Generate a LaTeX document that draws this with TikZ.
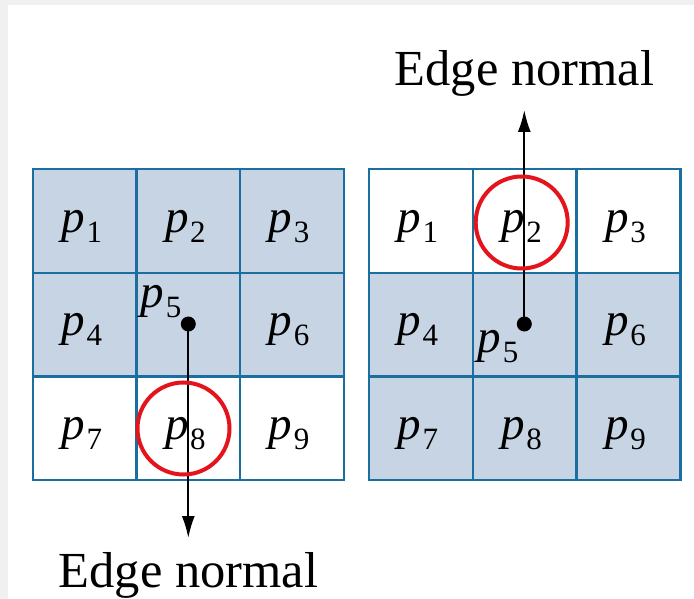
\documentclass[tikz,border=0pt]{standalone}
\usepackage{fontspec}
\setmainfont{Liberation Serif}
\usetikzlibrary{arrows.meta}
\definecolor{gridline}{HTML}{1A6EA0}
\definecolor{cellfill}{HTML}{C6D4E4}
\definecolor{ringred}{HTML}{E3141B}
\definecolor{framegray}{HTML}{F0F0F0}
\newcommand{\plab}[1]{\fontsize{47}{47}\selectfont\itshape p\kern1.5pt\raisebox{-10pt}{\fontsize{31}{31}\selectfont\upshape #1}}
\tikzset{
  cellbox/.style={draw=gridline, line width=2.4pt, minimum width=103.6pt, minimum height=103.6pt, inner sep=0pt, outer sep=0pt},
  shaded/.style={cellbox, fill=cellfill},
  plain/.style={cellbox, fill=white},
  plabel/.style={inner sep=0pt, text=black},
  ring/.style={draw=ringred, line width=4pt, circle, minimum size=92pt, inner sep=0pt},
  dotnode/.style={circle, fill=black, minimum size=15pt, inner sep=0pt},
  normalarrow/.style={line width=1.9pt, -{Latex[length=22pt,width=13pt]}},
  caption/.style={font=\fontsize{50.5}{50.5}\selectfont, inner sep=0pt, anchor=base}
}
\begin{document}
\begin{tikzpicture}[x=1pt,y=-1pt]
\fill[framegray] (0,0) rectangle (694,599);
\fill[white] (8,5) rectangle (694,599);
\useasboundingbox (0,0) rectangle (694,599);
% left grid
\foreach \r/\c/\s/\n in {0/0/shaded/1,0/1/shaded/2,0/2/shaded/3,1/0/shaded/4,1/1/shaded/5,1/2/shaded/6,2/0/plain/7,2/1/plain/8,2/2/plain/9}{
  \node[\s] (L\n) at ({33+51.8+103.6*\c},{169.3+51.8+103.6*\r}) {};
}
% right grid
\foreach \r/\c/\s/\n in {0/0/plain/1,0/1/plain/2,0/2/plain/3,1/0/shaded/4,1/1/shaded/5,1/2/shaded/6,2/0/shaded/7,2/1/shaded/8,2/2/shaded/9}{
  \node[\s] (R\n) at ({369+51.9+103.8*\c},{169.3+51.8+103.6*\r}) {};
}
% labels
\foreach \n in {1,2,3,4,6,7,8,9}{
  \node[plabel] (LP\n) at ([shift={(-3,5)}]L\n.center) {\plab{\n}};
  \node[plabel] (RP\n) at ([shift={(-3,5)}]R\n.center) {\plab{\n}};
}
% dots
\node[dotnode] (LD) at (188.3,324) {};
\node[dotnode] (RD) at (524.3,324) {};
\node[plabel] (LP5) at (161,302) {\plab{5}};
\node[plabel] (RP5) at (498,347) {\plab{5}};
% arrows
\coordinate (LT) at (188.3,538);
\coordinate (RT) at (524.3,110);
\draw[normalarrow] (LD.center) -- (LT);
\draw[normalarrow] (RD.center) -- (RT);
% rings
\node[ring] (LC) at (183.5,428.5) {};
\node[ring] (RC) at (521.7,222.5) {};
% captions
\node[caption] (TopCap) at (524.5,86) {Edge normal};
\node[caption] (BotCap) at (188.5,587) {Edge normal};
\end{tikzpicture}
\end{document}
